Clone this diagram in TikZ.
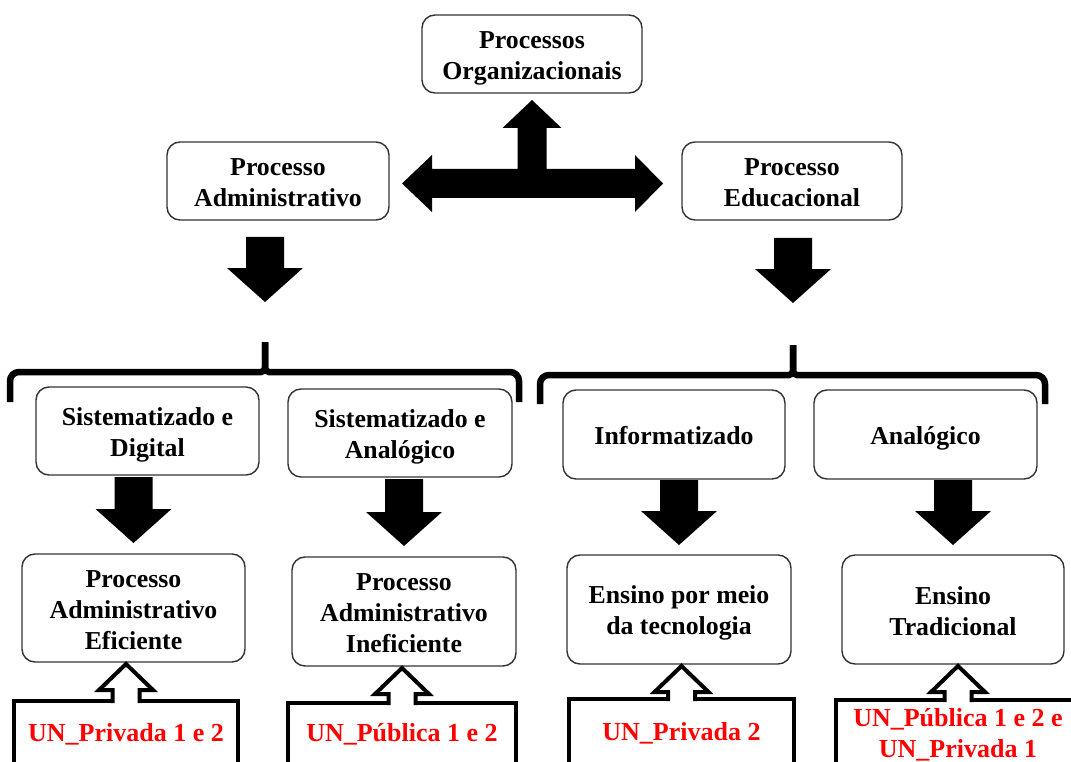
\documentclass[tikz,border=0pt]{standalone}
\usepackage{fontspec}
\setmainfont{Liberation Serif}
\usetikzlibrary{calc}

% fixed line strut so every label sits on the same metric box
\newcommand\lnst{\rule[-5pt]{0pt}{30pt}}

% solid black block arrow pointing down; #1 start point, #2 point it aims at,
% #3 gap below the start, #4 gap above the aimed point
\newcommand\blockdown[4]{%
  \fill let \p1=#1, \p2=#2 in
    (\x2-19pt,\y1-#3) -- (\x2-19pt,\y2+#4+34pt) -- (\x2-38pt,\y2+#4+34pt)
    -- (\x2,\y2+#4) -- (\x2+38pt,\y2+#4+34pt) -- (\x2+19pt,\y2+#4+34pt)
    -- (\x2+19pt,\y1-#3) -- cycle;}

% heavy frame of a unit box, open past the lower edge of the page
\newcommand\unitframe[1]{%
  \draw[frame] (#1.north west) rectangle ($(#1.north east)+(0,110)$);}

% outlined arrow rising from the top edge of a unit box (#1) to a box above (#2)
\newcommand\hollowup[2]{%
  \fill[white] let \p1=(#1.north), \p2=(#2.south) in
    (\x1-13.5pt,\y1-2.2pt) -- (\x1-13.5pt,\y2-28pt) -- (\x1-27pt,\y2-28pt)
    -- (\x1,\y2-2pt) -- (\x1+27pt,\y2-28pt) -- (\x1+13.5pt,\y2-28pt)
    -- (\x1+13.5pt,\y1-2.2pt) -- cycle;
  \draw[frame] let \p1=(#1.north), \p2=(#2.south) in
    (\x1-13.5pt,\y1-2pt) -- (\x1-13.5pt,\y2-28pt) -- (\x1-27pt,\y2-28pt)
    -- (\x1,\y2-2pt) -- (\x1+27pt,\y2-28pt) -- (\x1+13.5pt,\y2-28pt)
    -- (\x1+13.5pt,\y1-2pt);}

\begin{document}
\begin{tikzpicture}[x=1pt,y=-1pt,
  procbox/.style={draw=black!80, line width=1.4pt, rounded corners=13pt, fill=white,
    align=center, inner sep=0pt, outer sep=0pt,
    font=\bfseries\fontsize{25.8}{31}\selectfont},
  unitbox/.style={align=center, inner sep=0pt, outer sep=0pt, anchor=north, text=red,
    font=\bfseries\fontsize{26}{28}\selectfont},
  frame/.style={draw=black, line width=4pt, line join=miter, miter limit=10},
  brace/.style={draw=black, line width=6.5pt, line cap=butt},
]
\useasboundingbox (0,0) rectangle (1071,762);
\fill[white] (0,0) rectangle (1071,762);
\clip (0,0) rectangle (1071,762);

% top level
\node[procbox, minimum width=220pt, minimum height=78pt] (org) at (532,54) {\lnst Processos\\Organizacionais\lnst};
\node[procbox, minimum width=222pt, minimum height=78pt] (adm) at (278,181) {\lnst Processo\\Administrativo\lnst};
\node[procbox, minimum width=220pt, minimum height=78pt] (edu) at (792,181) {\lnst Processo\\Educacional\lnst};

% second level
\node[procbox, minimum width=223pt, minimum height=88pt] (sd) at (147.5,431) {\lnst Sistematizado e\\Digital\lnst};
\node[procbox, minimum width=224pt, minimum height=88pt] (sa) at (400,433) {\lnst Sistematizado e\\Analógico\lnst};
\node[procbox, minimum width=222pt, minimum height=89pt] (inf) at (674,434.5) {\lnst Informatizado};
\node[procbox, minimum width=223pt, minimum height=89pt] (ana) at (925.5,434.5) {\lnst Analógico};

% third level
\node[procbox, minimum width=223pt, minimum height=108pt] (ef) at (133.5,608) {\lnst Processo\\Administrativo\\Eficiente\lnst};
\node[procbox, minimum width=224pt, minimum height=109pt] (inef) at (404,611.5) {\lnst Processo\\Administrativo\\Ineficiente\lnst};
\node[procbox, minimum width=224pt, minimum height=109pt] (tec) at (679,609.5) {\lnst Ensino por meio\\da tecnologia\lnst};
\node[procbox, minimum width=222pt, minimum height=109pt] (trad) at (953,609.5) {\lnst Ensino\\Tradicional\lnst};

% units
\node[unitbox, minimum width=224pt, minimum height=60pt] (u1) at (126,701) {\lnst UN\_Privada 1 e 2};
\node[unitbox, minimum width=228pt, minimum height=57pt] (u2) at (402,703) {\lnst UN\_Pública 1 e 2};
\node[unitbox, minimum width=225pt, minimum height=63pt] (u3) at (681.5,699) {\lnst UN\_Privada 2};
\node[unitbox, minimum width=244pt, minimum height=63pt] (u4) at (958,700) {\lnst UN\_Pública 1 e 2 e\\UN\_Privada 1\lnst};
\unitframe{u1}
\unitframe{u2}
\unitframe{u3}
\unitframe{u4}

% three-way block arrow between the top boxes
\fill let \p1=(adm.east), \p2=(edu.west), \p3=(org.south), \p4=($(adm.east)+(0,2.5)$) in
  (\x1+13pt,\y4) -- (\x1+43pt,\y4+28.5pt) -- (\x1+43pt,\y4+14.5pt)
  -- (\x3-14.5pt,\y4+14.5pt) -- (\x3-14.5pt,\y3-35pt) -- (\x3-29.5pt,\y3-35pt)
  -- (\x3,\y3-7pt)
  -- (\x3+29.5pt,\y3-35pt) -- (\x3+14.5pt,\y3-35pt) -- (\x3+14.5pt,\y4+14.5pt)
  -- (\x2-47pt,\y4+14.5pt) -- (\x2-47pt,\y4+28.5pt) -- (\x2-19pt,\y4)
  -- (\x2-47pt,\y4-28.5pt) -- (\x2-47pt,\y4-14.5pt)
  -- (\x1+43pt,\y4-14.5pt) -- (\x1+43pt,\y4-28.5pt) -- cycle;

% braces grouping the second level
\coordinate (bl) at (265,342);
\coordinate (br) at (793,345);
\draw[brace] (10,402) [rounded corners=9pt] -- (10,372) [rounded corners=4pt] -- (265,372) [sharp corners] -- (bl);
\draw[brace] (bl) [rounded corners=4pt] -- (265,372) [rounded corners=9pt] -- (519,372) [sharp corners] -- (519,402);
\draw[brace] (540,404) [rounded corners=9pt] -- (540,375) [rounded corners=4pt] -- (793,375) [sharp corners] -- (br);
\draw[brace] (br) [rounded corners=4pt] -- (793,375) [rounded corners=9pt] -- (1045,375) [sharp corners] -- (1045,404);

% solid arrows
\blockdown{(adm.south)}{(bl)}{17pt}{40pt}
\blockdown{(edu.south)}{(br)}{18pt}{42pt}
\blockdown{(sd.south)}{(ef.north)}{2pt}{11pt}
\blockdown{(sa.south)}{(inef.north)}{2pt}{11pt}
\blockdown{(inf.south)}{(tec.north)}{1pt}{10pt}
\blockdown{(ana.south)}{(trad.north)}{1pt}{10pt}

% outlined arrows from the units
\hollowup{u1}{ef}
\hollowup{u2}{inef}
\hollowup{u3}{tec}
\hollowup{u4}{trad}
\end{tikzpicture}
\end{document}
